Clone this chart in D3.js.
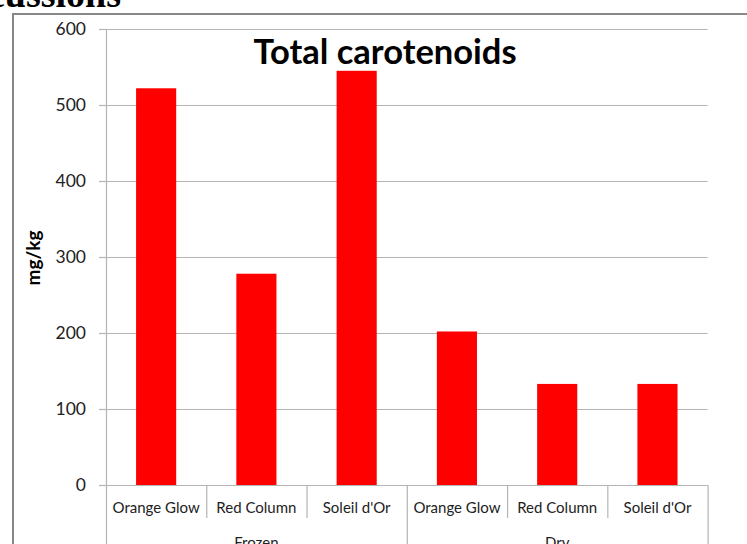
<!DOCTYPE html>
<html>
<head>
<meta charset="utf-8">
<script src="https://cdn.jsdelivr.net/npm/d3@7"></script>
<style>
  html, body { margin: 0; padding: 0; background: #fff; overflow: hidden; }
  svg { display: block; }
</style>
</head>
<body>
<svg id="chart" width="747" height="544"></svg>
<script>
// Total carotenoid content (mg/kg) per variety, frozen vs dry samples
const groups = ["Frozen", "Dry"];
const varieties = ["Orange Glow", "Red Column", "Soleil d'Or"];
const frozenValues = [522, 278, 545];
const dryValues = [202, 133, 133];
const yTicks = [0, 100, 200, 300, 400, 500, 600];

const rows = [];
groups.forEach((g, gi) => {
  const vals = gi === 0 ? frozenValues : dryValues;
  varieties.forEach((v, vi) => rows.push({ group: g, variety: v, key: g + "|" + v, value: vals[vi] }));
});

const svg = d3.select("#chart");
const fontFamily = "Lato, 'Open Sans', sans-serif";

// section heading running off the top-left of the page
svg.append("text")
  .attr("x", 121).attr("y", 7)
  .attr("text-anchor", "end")
  .attr("font-family", "'Liberation Serif', 'Times New Roman', serif")
  .attr("font-weight", "bold")
  .attr("font-size", 38)
  .attr("fill", "#000")
  .text("Discussions");

// chart frame
svg.append("rect")
  .attr("x", 13).attr("y", 14)
  .attr("width", 760).attr("height", 560)
  .attr("fill", "#fff")
  .attr("stroke", "#878787")
  .attr("stroke-width", 2);

const plot = { left: 106, right: 707.6, top: 29, bottom: 485 };

const x = d3.scaleBand()
  .domain(rows.map(d => d.key))
  .range([plot.left, plot.right])
  .paddingInner(0.6)
  .paddingOuter(0.3);

const y = d3.scaleLinear().domain([0, 600]).range([plot.bottom, plot.top]);

const gridColor = "#b4b4b4";

// horizontal gridlines
svg.append("g")
  .selectAll("line")
  .data(yTicks.filter(t => t > 0))
  .join("line")
  .attr("x1", plot.left).attr("x2", plot.right)
  .attr("y1", d => Math.round(y(d)) + 0.5).attr("y2", d => Math.round(y(d)) + 0.5)
  .attr("stroke", gridColor).attr("stroke-width", 1.2);

// y axis
const yAxis = svg.append("g")
  .attr("transform", `translate(${plot.left},0)`)
  .call(d3.axisLeft(y).tickValues(yTicks).tickSize(7).tickPadding(13).tickFormat(d3.format("d")));
yAxis.select(".domain").remove();
yAxis.selectAll(".tick line").attr("stroke", gridColor).attr("stroke-width", 1.2);
yAxis.selectAll(".tick text")
  .attr("font-family", fontFamily)
  .attr("font-size", 17.5)
  .attr("fill", "#222");

// vertical axis line
svg.append("line")
  .attr("x1", plot.left + 0.5).attr("x2", plot.left + 0.5)
  .attr("y1", plot.top).attr("y2", 560)
  .attr("stroke", gridColor).attr("stroke-width", 1.2);

// bars
svg.append("g")
  .selectAll("rect")
  .data(rows)
  .join("rect")
  .attr("x", d => x(d.key))
  .attr("y", d => y(d.value))
  .attr("width", x.bandwidth())
  .attr("height", d => y(0) - y(d.value))
  .attr("fill", "#ff0000");

// baseline
svg.append("line")
  .attr("x1", plot.left - 7).attr("x2", plot.right)
  .attr("y1", plot.bottom + 0.5).attr("y2", plot.bottom + 0.5)
  .attr("stroke", gridColor).attr("stroke-width", 1.2);

// category separators: short between varieties, long between groups
const step = x.step();
const edge = i => plot.left + i * step;
const seps = d3.range(1, rows.length + 1);
svg.append("g")
  .selectAll("line")
  .data(seps)
  .join("line")
  .attr("x1", i => edge(i) + 0.5).attr("x2", i => edge(i) + 0.5)
  .attr("y1", plot.bottom)
  .attr("y2", i => (i % varieties.length === 0) ? 560 : 518)
  .attr("stroke", gridColor).attr("stroke-width", 1.2);

// variety labels
svg.append("g")
  .selectAll("text")
  .data(rows)
  .join("text")
  .attr("x", d => x(d.key) + x.bandwidth() / 2)
  .attr("y", 513)
  .attr("text-anchor", "middle")
  .attr("font-family", fontFamily)
  .attr("font-size", 15)
  .attr("fill", "#222")
  .text(d => d.variety);

// group labels
svg.append("g")
  .selectAll("text")
  .data(groups)
  .join("text")
  .attr("x", (g, gi) => edge(gi * varieties.length + varieties.length / 2))
  .attr("y", 547.5)
  .attr("text-anchor", "middle")
  .attr("font-family", fontFamily)
  .attr("font-size", 15)
  .attr("fill", "#222")
  .text(g => g);

// y axis title
svg.append("text")
  .attr("transform", "translate(40,258) rotate(-90)")
  .attr("text-anchor", "middle")
  .attr("font-family", fontFamily)
  .attr("font-weight", "bold")
  .attr("font-size", 19)
  .attr("fill", "#000")
  .text("mg/kg");

// chart title
svg.append("text")
  .attr("x", 385).attr("y", 64)
  .attr("text-anchor", "middle")
  .attr("font-family", fontFamily)
  .attr("font-weight", "bold")
  .attr("font-size", 34.5)
  .attr("fill", "#000")
  .text("Total carotenoids");
</script>
</body>
</html>
